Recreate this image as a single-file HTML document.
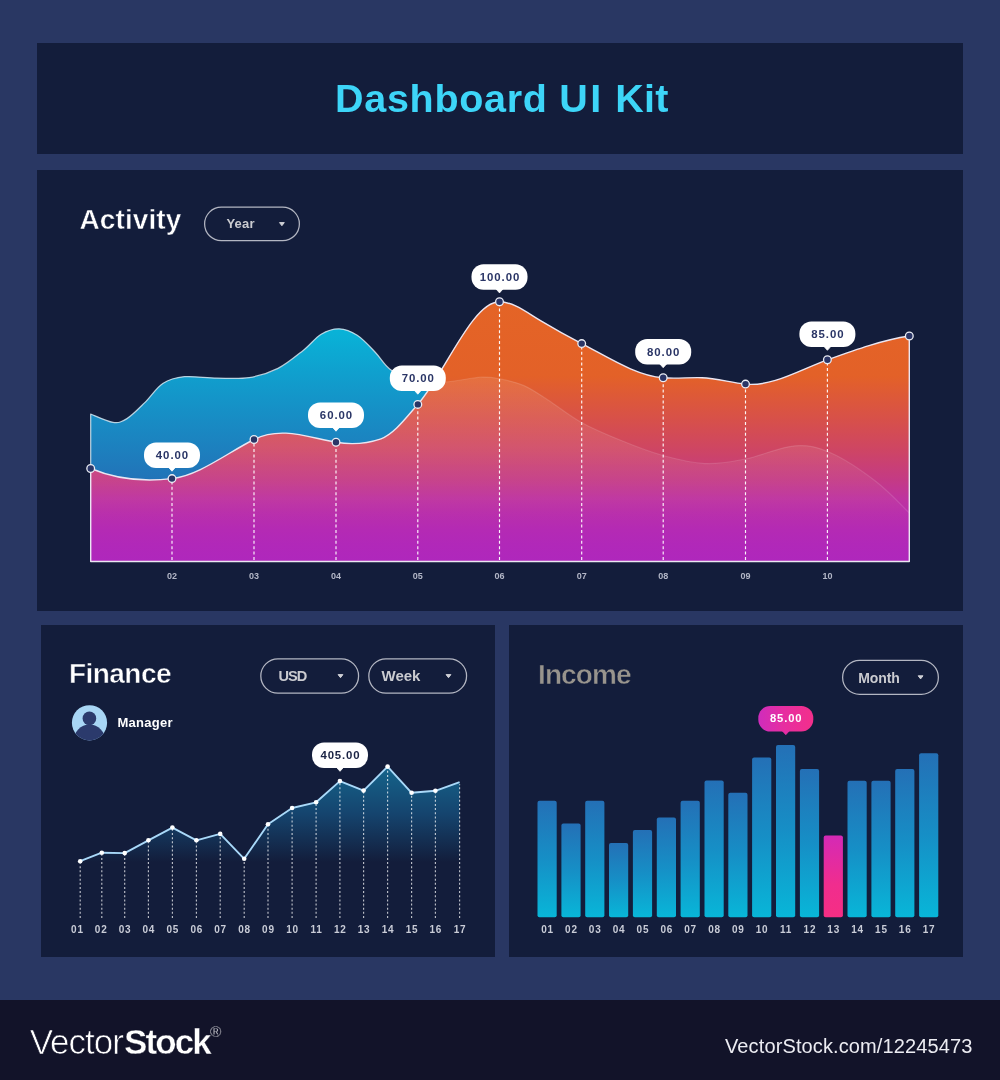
<!DOCTYPE html>
<html><head><meta charset="utf-8"><title>Dashboard UI Kit</title>
<style>
*{margin:0;padding:0;box-sizing:border-box}
html,body{width:1000px;height:1080px;overflow:hidden;background:#293763;font-family:"Liberation Sans",sans-serif}
.abs{position:absolute}
.panel{position:absolute;background:#131d3b}
.h{position:absolute;-webkit-text-stroke:0.5px #131d3b;color:#fff;font-weight:bold;white-space:nowrap;line-height:1}
svg{position:absolute;left:0;top:0}
svg text{font-family:"Liberation Sans",sans-serif;font-weight:bold}
</style></head>
<body>
<div class="panel" style="left:37px;top:43px;width:926px;height:111px"></div>
<div class="panel" style="left:37px;top:170px;width:926px;height:441px"></div>
<div class="panel" style="left:41px;top:625px;width:454px;height:332px"></div>
<div class="panel" style="left:509px;top:625px;width:454px;height:332px"></div>
<div class="abs" style="left:0;top:1000px;width:1000px;height:80px;background:#121329"></div>

<div class="h" id="title" style="left:0;top:78.6px;font-size:39.5px;color:#3dd5f8;-webkit-text-stroke:0"><span class="abs" style="left:335px;letter-spacing:0.7px">Dashboard</span><span class="abs" style="left:559.3px;letter-spacing:2.5px">UI</span><span class="abs" style="left:615.3px;letter-spacing:0.25px">Kit</span></div>
<div class="h" id="activity" style="left:79.5px;top:206.2px;font-size:28px;letter-spacing:0.1px">Activity</div>
<div class="h" id="finance" style="left:69px;top:660.3px;font-size:28px;letter-spacing:-0.55px">Finance</div>
<div class="h" id="income" style="left:538px;top:660.9px;font-size:28px;color:#98948d;letter-spacing:-0.9px">Income</div>
<div class="h" id="manager" style="left:117.5px;top:716px;font-size:13px;letter-spacing:0.25px;-webkit-text-stroke:0">Manager</div>


<svg id="chart" width="1000" height="1080" viewBox="0 0 1000 1080">
<defs>
<linearGradient id="gO" gradientUnits="userSpaceOnUse" x1="0" y1="300" x2="0" y2="562">
<stop offset="0" stop-color="#e46426"/><stop offset="0.29" stop-color="#e36128"/><stop offset="0.458" stop-color="#d7504a"/><stop offset="0.573" stop-color="#ce4564"/><stop offset="0.687" stop-color="#c43a85"/><stop offset="0.76" stop-color="#be33a0"/><stop offset="0.82" stop-color="#b82dac"/><stop offset="0.878" stop-color="#b42ab4"/><stop offset="0.935" stop-color="#b128b9"/><stop offset="1" stop-color="#af27bc"/>
</linearGradient>
<linearGradient id="gB" gradientUnits="userSpaceOnUse" x1="0" y1="328" x2="0" y2="480">
<stop offset="0" stop-color="#08b4d8"/><stop offset="0.35" stop-color="#119ccc"/><stop offset="1" stop-color="#2273b8"/>
</linearGradient>
<linearGradient id="gF" gradientUnits="userSpaceOnUse" x1="0" y1="766" x2="0" y2="862">
<stop offset="0" stop-color="#15658c"/><stop offset="0.5" stop-color="#15446e"/><stop offset="1" stop-color="#131d3b"/>
</linearGradient>
<linearGradient id="gBar" x1="0" y1="0" x2="0" y2="1">
<stop offset="0" stop-color="#2470b6"/><stop offset="0.5" stop-color="#168fc6"/><stop offset="1" stop-color="#08b6d8"/>
</linearGradient>
<linearGradient id="gPink" x1="0" y1="0" x2="0" y2="1">
<stop offset="0" stop-color="#d42ab6"/><stop offset="0.6" stop-color="#f02d8e"/><stop offset="1" stop-color="#f62e84"/>
</linearGradient>
<linearGradient id="gTip" x1="0" y1="0" x2="1" y2="0">
<stop offset="0" stop-color="#cf2cbc"/><stop offset="0.45" stop-color="#e62ea1"/><stop offset="1" stop-color="#f32f8b"/>
</linearGradient>
<linearGradient id="gG" gradientUnits="userSpaceOnUse" x1="0" y1="376" x2="0" y2="562">
<stop offset="0" stop-color="#fff" stop-opacity="0.10"/><stop offset="0.4" stop-color="#fff" stop-opacity="0.08"/><stop offset="0.56" stop-color="#fff" stop-opacity="0.05"/><stop offset="0.72" stop-color="#fff" stop-opacity="0.015"/><stop offset="0.82" stop-color="#fff" stop-opacity="0"/>
</linearGradient>
</defs>
<path d="M90.7 414.0C94.4 415.4 107.0 421.5 113.0 422.3C119.0 423.1 121.7 421.9 127.0 418.6C132.3 415.3 138.8 408.5 144.8 402.6C150.8 396.8 156.2 387.8 162.8 383.5C169.4 379.2 175.4 377.6 184.4 376.7C193.4 375.8 206.0 378.0 216.8 378.1C227.6 378.2 239.0 379.2 249.2 377.6C259.4 376.0 269.0 372.9 278.0 368.4C287.0 363.9 296.0 356.1 303.2 350.4C310.4 344.7 315.2 337.8 321.2 334.2C327.2 330.6 333.2 328.6 339.2 328.8C345.2 329.0 351.2 331.4 357.2 335.3C363.2 339.2 369.6 346.4 375.2 352.2C380.8 358.0 383.9 365.3 391.0 370.0C398.1 374.7 409.0 378.5 418.0 380.5C427.0 382.5 434.5 382.6 445.0 382.0C455.5 381.4 471.8 377.7 481.0 377.2C490.2 376.7 492.8 377.5 500.0 378.9C507.2 380.3 516.0 382.1 524.0 385.6C532.0 389.1 538.5 393.9 548.0 400.0C557.5 406.1 569.0 415.5 581.0 422.2C593.0 428.9 606.3 434.4 620.0 440.0C633.7 445.6 648.8 451.6 663.0 455.5C677.2 459.4 691.2 463.0 705.0 463.6C718.8 464.2 730.5 462.0 745.5 459.0C760.5 456.0 780.8 446.8 795.0 445.8C809.2 444.8 817.5 447.1 831.0 453.0C844.5 458.9 863.0 471.5 876.0 481.5C889.0 491.5 903.8 507.8 909.3 513.0L909.3 561.5L90.7 561.5Z" fill="url(#gB)"/>
<path d="M90.7 468L90.7 414C94.4 415.4 107.0 421.5 113.0 422.3C119.0 423.1 121.7 421.9 127.0 418.6C132.3 415.3 138.8 408.5 144.8 402.6C150.8 396.8 156.2 387.8 162.8 383.5C169.4 379.2 175.4 377.6 184.4 376.7C193.4 375.8 206.0 378.0 216.8 378.1C227.6 378.2 239.0 379.2 249.2 377.6C259.4 376.0 269.0 372.9 278.0 368.4C287.0 363.9 296.0 356.1 303.2 350.4C310.4 344.7 315.2 337.8 321.2 334.2C327.2 330.6 333.2 328.6 339.2 328.8C345.2 329.0 351.2 331.4 357.2 335.3C363.2 339.2 369.6 346.4 375.2 352.2C380.8 358.0 383.9 365.3 391.0 370.0C398.1 374.7 409.0 378.5 418.0 380.5C427.0 382.5 434.5 382.6 445.0 382.0C455.5 381.4 471.8 377.7 481.0 377.2C490.2 376.7 492.8 377.5 500.0 378.9C507.2 380.3 516.0 382.1 524.0 385.6C532.0 389.1 538.5 393.9 548.0 400.0C557.5 406.1 569.0 415.5 581.0 422.2C593.0 428.9 606.3 434.4 620.0 440.0C633.7 445.6 648.8 451.6 663.0 455.5C677.2 459.4 691.2 463.0 705.0 463.6C718.8 464.2 730.5 462.0 745.5 459.0C760.5 456.0 780.8 446.8 795.0 445.8C809.2 444.8 817.5 447.1 831.0 453.0C844.5 458.9 863.0 471.5 876.0 481.5C889.0 491.5 903.8 507.8 909.3 513.0" fill="none" stroke="#d5e6f0" stroke-opacity="0.85" stroke-width="1.25" stroke-linejoin="round"/>
<path d="M90.7 468.5C117.8 479.9 144.9 481.9 172.0 478.6C199.3 475.3 226.7 453.2 254.0 439.5C281.3 425.8 308.7 437.6 336.0 442.2C351.0 444.8 366.0 443.9 381.0 438.8C393.3 434.6 405.5 418.5 417.8 404.4C445.0 373.1 472.3 301.8 499.5 301.8C513.2 301.8 526.8 312.4 540.5 320.6C554.2 328.8 568.0 336.5 581.7 343.6C608.9 357.7 636.0 375.6 663.2 377.8C676.1 378.8 689.1 377.3 702.0 377.7C716.5 378.1 731.0 382.7 745.5 384.1C772.8 386.8 800.1 369.6 827.4 359.8C854.7 350.0 882.0 340.1 909.3 336.0L909.3 561.5L90.7 561.5Z" fill="url(#gO)"/>
<clipPath id="cF"><path d="M90.7 468.5C117.8 479.9 144.9 481.9 172.0 478.6C199.3 475.3 226.7 453.2 254.0 439.5C281.3 425.8 308.7 437.6 336.0 442.2C351.0 444.8 366.0 443.9 381.0 438.8C393.3 434.6 405.5 418.5 417.8 404.4C445.0 373.1 472.3 301.8 499.5 301.8C513.2 301.8 526.8 312.4 540.5 320.6C554.2 328.8 568.0 336.5 581.7 343.6C608.9 357.7 636.0 375.6 663.2 377.8C676.1 378.8 689.1 377.3 702.0 377.7C716.5 378.1 731.0 382.7 745.5 384.1C772.8 386.8 800.1 369.6 827.4 359.8C854.7 350.0 882.0 340.1 909.3 336.0L909.3 561.5L90.7 561.5Z"/></clipPath>
<g clip-path="url(#cF)"><path d="M90.7 414.0C94.4 415.4 107.0 421.5 113.0 422.3C119.0 423.1 121.7 421.9 127.0 418.6C132.3 415.3 138.8 408.5 144.8 402.6C150.8 396.8 156.2 387.8 162.8 383.5C169.4 379.2 175.4 377.6 184.4 376.7C193.4 375.8 206.0 378.0 216.8 378.1C227.6 378.2 239.0 379.2 249.2 377.6C259.4 376.0 269.0 372.9 278.0 368.4C287.0 363.9 296.0 356.1 303.2 350.4C310.4 344.7 315.2 337.8 321.2 334.2C327.2 330.6 333.2 328.6 339.2 328.8C345.2 329.0 351.2 331.4 357.2 335.3C363.2 339.2 369.6 346.4 375.2 352.2C380.8 358.0 383.9 365.3 391.0 370.0C398.1 374.7 409.0 378.5 418.0 380.5C427.0 382.5 434.5 382.6 445.0 382.0C455.5 381.4 471.8 377.7 481.0 377.2C490.2 376.7 492.8 377.5 500.0 378.9C507.2 380.3 516.0 382.1 524.0 385.6C532.0 389.1 538.5 393.9 548.0 400.0C557.5 406.1 569.0 415.5 581.0 422.2C593.0 428.9 606.3 434.4 620.0 440.0C633.7 445.6 648.8 451.6 663.0 455.5C677.2 459.4 691.2 463.0 705.0 463.6C718.8 464.2 730.5 462.0 745.5 459.0C760.5 456.0 780.8 446.8 795.0 445.8C809.2 444.8 817.5 447.1 831.0 453.0C844.5 458.9 863.0 471.5 876.0 481.5C889.0 491.5 903.8 507.8 909.3 513.0L909.3 561.5L90.7 561.5Z" fill="url(#gG)"/><path d="M90.7 414.0C94.4 415.4 107.0 421.5 113.0 422.3C119.0 423.1 121.7 421.9 127.0 418.6C132.3 415.3 138.8 408.5 144.8 402.6C150.8 396.8 156.2 387.8 162.8 383.5C169.4 379.2 175.4 377.6 184.4 376.7C193.4 375.8 206.0 378.0 216.8 378.1C227.6 378.2 239.0 379.2 249.2 377.6C259.4 376.0 269.0 372.9 278.0 368.4C287.0 363.9 296.0 356.1 303.2 350.4C310.4 344.7 315.2 337.8 321.2 334.2C327.2 330.6 333.2 328.6 339.2 328.8C345.2 329.0 351.2 331.4 357.2 335.3C363.2 339.2 369.6 346.4 375.2 352.2C380.8 358.0 383.9 365.3 391.0 370.0C398.1 374.7 409.0 378.5 418.0 380.5C427.0 382.5 434.5 382.6 445.0 382.0C455.5 381.4 471.8 377.7 481.0 377.2C490.2 376.7 492.8 377.5 500.0 378.9C507.2 380.3 516.0 382.1 524.0 385.6C532.0 389.1 538.5 393.9 548.0 400.0C557.5 406.1 569.0 415.5 581.0 422.2C593.0 428.9 606.3 434.4 620.0 440.0C633.7 445.6 648.8 451.6 663.0 455.5C677.2 459.4 691.2 463.0 705.0 463.6C718.8 464.2 730.5 462.0 745.5 459.0C760.5 456.0 780.8 446.8 795.0 445.8C809.2 444.8 817.5 447.1 831.0 453.0C844.5 458.9 863.0 471.5 876.0 481.5C889.0 491.5 903.8 507.8 909.3 513.0" fill="none" stroke="#fff" stroke-opacity="0.12" stroke-width="1.2"/></g>
<line x1="172.0" y1="560.0" x2="172.0" y2="482.6" stroke="#fff" stroke-width="1.15" stroke-dasharray="3 2.4" stroke-opacity="0.95"/>
<line x1="254.0" y1="560.0" x2="254.0" y2="443.5" stroke="#fff" stroke-width="1.15" stroke-dasharray="3 2.4" stroke-opacity="0.95"/>
<line x1="336.0" y1="560.0" x2="336.0" y2="446.2" stroke="#fff" stroke-width="1.15" stroke-dasharray="3 2.4" stroke-opacity="0.95"/>
<line x1="417.8" y1="560.0" x2="417.8" y2="408.4" stroke="#fff" stroke-width="1.15" stroke-dasharray="3 2.4" stroke-opacity="0.95"/>
<line x1="499.5" y1="560.0" x2="499.5" y2="305.8" stroke="#fff" stroke-width="1.15" stroke-dasharray="3 2.4" stroke-opacity="0.95"/>
<line x1="581.7" y1="560.0" x2="581.7" y2="347.6" stroke="#fff" stroke-width="1.15" stroke-dasharray="3 2.4" stroke-opacity="0.95"/>
<line x1="663.2" y1="560.0" x2="663.2" y2="381.8" stroke="#fff" stroke-width="1.15" stroke-dasharray="3 2.4" stroke-opacity="0.95"/>
<line x1="745.5" y1="560.0" x2="745.5" y2="388.1" stroke="#fff" stroke-width="1.15" stroke-dasharray="3 2.4" stroke-opacity="0.95"/>
<line x1="827.4" y1="560.0" x2="827.4" y2="363.8" stroke="#fff" stroke-width="1.15" stroke-dasharray="3 2.4" stroke-opacity="0.95"/>
<path d="M90.7 561.5L90.7 468.5C117.8 479.9 144.9 481.9 172.0 478.6C199.3 475.3 226.7 453.2 254.0 439.5C281.3 425.8 308.7 437.6 336.0 442.2C351.0 444.8 366.0 443.9 381.0 438.8C393.3 434.6 405.5 418.5 417.8 404.4C445.0 373.1 472.3 301.8 499.5 301.8C513.2 301.8 526.8 312.4 540.5 320.6C554.2 328.8 568.0 336.5 581.7 343.6C608.9 357.7 636.0 375.6 663.2 377.8C676.1 378.8 689.1 377.3 702.0 377.7C716.5 378.1 731.0 382.7 745.5 384.1C772.8 386.8 800.1 369.6 827.4 359.8C854.7 350.0 882.0 340.1 909.3 336.0L909.3 561.5Z" fill="none" stroke="#eae6f2" stroke-width="1.4" stroke-linejoin="round"/>
<circle cx="90.7" cy="468.5" r="3.85" fill="#2a3566" stroke="#eceef5" stroke-width="1.3"/>
<circle cx="172.0" cy="478.6" r="3.85" fill="#2a3566" stroke="#eceef5" stroke-width="1.3"/>
<circle cx="254.0" cy="439.5" r="3.85" fill="#2a3566" stroke="#eceef5" stroke-width="1.3"/>
<circle cx="336.0" cy="442.2" r="3.85" fill="#2a3566" stroke="#eceef5" stroke-width="1.3"/>
<circle cx="417.8" cy="404.4" r="3.85" fill="#2a3566" stroke="#eceef5" stroke-width="1.3"/>
<circle cx="499.5" cy="301.8" r="3.85" fill="#2a3566" stroke="#eceef5" stroke-width="1.3"/>
<circle cx="581.7" cy="343.6" r="3.85" fill="#2a3566" stroke="#eceef5" stroke-width="1.3"/>
<circle cx="663.2" cy="377.8" r="3.85" fill="#2a3566" stroke="#eceef5" stroke-width="1.3"/>
<circle cx="745.5" cy="384.1" r="3.85" fill="#2a3566" stroke="#eceef5" stroke-width="1.3"/>
<circle cx="827.4" cy="359.8" r="3.85" fill="#2a3566" stroke="#eceef5" stroke-width="1.3"/>
<circle cx="909.3" cy="336.0" r="3.85" fill="#2a3566" stroke="#eceef5" stroke-width="1.3"/>
<text x="172.0" y="578.6" font-size="9" fill="#b3b7c7" text-anchor="middle">02</text>
<text x="254.0" y="578.6" font-size="9" fill="#b3b7c7" text-anchor="middle">03</text>
<text x="336.0" y="578.6" font-size="9" fill="#b3b7c7" text-anchor="middle">04</text>
<text x="417.8" y="578.6" font-size="9" fill="#b3b7c7" text-anchor="middle">05</text>
<text x="499.5" y="578.6" font-size="9" fill="#b3b7c7" text-anchor="middle">06</text>
<text x="581.7" y="578.6" font-size="9" fill="#b3b7c7" text-anchor="middle">07</text>
<text x="663.2" y="578.6" font-size="9" fill="#b3b7c7" text-anchor="middle">08</text>
<text x="745.5" y="578.6" font-size="9" fill="#b3b7c7" text-anchor="middle">09</text>
<text x="827.4" y="578.6" font-size="9" fill="#b3b7c7" text-anchor="middle">10</text>
<rect x="144.0" y="442.5" width="56.0" height="25.5" rx="12.0" fill="#fff"/>
<path d="M168.6 467.4L175.4 467.4L172.0 471.2Z" fill="#fff" stroke="#fff" stroke-width="0.8" stroke-linejoin="round"/>
<text x="172.47" y="459.03" font-size="11.4" fill="#2a3566" text-anchor="middle" letter-spacing="0.95">40.00</text>
<rect x="308.0" y="402.5" width="56.0" height="25.5" rx="12.0" fill="#fff"/>
<path d="M332.6 427.4L339.4 427.4L336.0 431.2Z" fill="#fff" stroke="#fff" stroke-width="0.8" stroke-linejoin="round"/>
<text x="336.48" y="419.03" font-size="11.4" fill="#2a3566" text-anchor="middle" letter-spacing="0.95">60.00</text>
<rect x="389.8" y="365.5" width="56.0" height="25.5" rx="12.0" fill="#fff"/>
<path d="M414.4 390.4L421.2 390.4L417.8 394.2Z" fill="#fff" stroke="#fff" stroke-width="0.8" stroke-linejoin="round"/>
<text x="418.28" y="382.03" font-size="11.4" fill="#2a3566" text-anchor="middle" letter-spacing="0.95">70.00</text>
<rect x="471.5" y="264.2" width="56.0" height="25.5" rx="12.0" fill="#fff"/>
<path d="M496.1 289.1L502.9 289.1L499.5 292.9Z" fill="#fff" stroke="#fff" stroke-width="0.8" stroke-linejoin="round"/>
<text x="499.98" y="280.73" font-size="11.4" fill="#2a3566" text-anchor="middle" letter-spacing="0.95">100.00</text>
<rect x="635.2" y="339.0" width="56.0" height="25.5" rx="12.0" fill="#fff"/>
<path d="M659.8 363.9L666.6 363.9L663.2 367.7Z" fill="#fff" stroke="#fff" stroke-width="0.8" stroke-linejoin="round"/>
<text x="663.68" y="355.53" font-size="11.4" fill="#2a3566" text-anchor="middle" letter-spacing="0.95">80.00</text>
<rect x="799.4" y="321.6" width="56.0" height="25.5" rx="12.0" fill="#fff"/>
<path d="M824.0 346.5L830.8 346.5L827.4 350.3Z" fill="#fff" stroke="#fff" stroke-width="0.8" stroke-linejoin="round"/>
<text x="827.88" y="338.13" font-size="11.4" fill="#2a3566" text-anchor="middle" letter-spacing="0.95">85.00</text>
<path d="M80.2 861.2 101.8 852.7 124.7 853.1 148.4 840.3 172.4 827.6 196.4 840.3 220.2 833.9 244.2 858.8 268.0 824.3 292.1 808.0 316.1 802.3 339.9 781.1 363.6 790.6 387.6 766.6 411.6 792.8 435.4 790.8 459.6 782.2 L459.6 870 L80.2 870Z" fill="url(#gF)"/>
<line x1="80.2" y1="918" x2="80.2" y2="863.2" stroke="#fff" stroke-width="1.15" stroke-dasharray="2 2.15" stroke-opacity="0.72"/>
<line x1="101.8" y1="918" x2="101.8" y2="854.7" stroke="#fff" stroke-width="1.15" stroke-dasharray="2 2.15" stroke-opacity="0.72"/>
<line x1="124.7" y1="918" x2="124.7" y2="855.1" stroke="#fff" stroke-width="1.15" stroke-dasharray="2 2.15" stroke-opacity="0.72"/>
<line x1="148.4" y1="918" x2="148.4" y2="842.3" stroke="#fff" stroke-width="1.15" stroke-dasharray="2 2.15" stroke-opacity="0.72"/>
<line x1="172.4" y1="918" x2="172.4" y2="829.6" stroke="#fff" stroke-width="1.15" stroke-dasharray="2 2.15" stroke-opacity="0.72"/>
<line x1="196.4" y1="918" x2="196.4" y2="842.3" stroke="#fff" stroke-width="1.15" stroke-dasharray="2 2.15" stroke-opacity="0.72"/>
<line x1="220.2" y1="918" x2="220.2" y2="835.9" stroke="#fff" stroke-width="1.15" stroke-dasharray="2 2.15" stroke-opacity="0.72"/>
<line x1="244.2" y1="918" x2="244.2" y2="860.8" stroke="#fff" stroke-width="1.15" stroke-dasharray="2 2.15" stroke-opacity="0.72"/>
<line x1="268.0" y1="918" x2="268.0" y2="826.3" stroke="#fff" stroke-width="1.15" stroke-dasharray="2 2.15" stroke-opacity="0.72"/>
<line x1="292.1" y1="918" x2="292.1" y2="810.0" stroke="#fff" stroke-width="1.15" stroke-dasharray="2 2.15" stroke-opacity="0.72"/>
<line x1="316.1" y1="918" x2="316.1" y2="804.3" stroke="#fff" stroke-width="1.15" stroke-dasharray="2 2.15" stroke-opacity="0.72"/>
<line x1="339.9" y1="918" x2="339.9" y2="783.1" stroke="#fff" stroke-width="1.15" stroke-dasharray="2 2.15" stroke-opacity="0.72"/>
<line x1="363.6" y1="918" x2="363.6" y2="792.6" stroke="#fff" stroke-width="1.15" stroke-dasharray="2 2.15" stroke-opacity="0.72"/>
<line x1="387.6" y1="918" x2="387.6" y2="768.6" stroke="#fff" stroke-width="1.15" stroke-dasharray="2 2.15" stroke-opacity="0.72"/>
<line x1="411.6" y1="918" x2="411.6" y2="794.8" stroke="#fff" stroke-width="1.15" stroke-dasharray="2 2.15" stroke-opacity="0.72"/>
<line x1="435.4" y1="918" x2="435.4" y2="792.8" stroke="#fff" stroke-width="1.15" stroke-dasharray="2 2.15" stroke-opacity="0.72"/>
<line x1="459.6" y1="918" x2="459.6" y2="784.2" stroke="#fff" stroke-width="1.15" stroke-dasharray="2 2.15" stroke-opacity="0.72"/>
<polyline points="80.2 861.2 101.8 852.7 124.7 853.1 148.4 840.3 172.4 827.6 196.4 840.3 220.2 833.9 244.2 858.8 268.0 824.3 292.1 808.0 316.1 802.3 339.9 781.1 363.6 790.6 387.6 766.6 411.6 792.8 435.4 790.8 459.6 782.2" fill="none" stroke="#a9d9f9" stroke-width="1.9" stroke-linejoin="round"/>
<circle cx="80.2" cy="861.2" r="2.3" fill="#fff"/>
<circle cx="101.8" cy="852.7" r="2.3" fill="#fff"/>
<circle cx="124.7" cy="853.1" r="2.3" fill="#fff"/>
<circle cx="148.4" cy="840.3" r="2.3" fill="#fff"/>
<circle cx="172.4" cy="827.6" r="2.3" fill="#fff"/>
<circle cx="196.4" cy="840.3" r="2.3" fill="#fff"/>
<circle cx="220.2" cy="833.9" r="2.3" fill="#fff"/>
<circle cx="244.2" cy="858.8" r="2.3" fill="#fff"/>
<circle cx="268.0" cy="824.3" r="2.3" fill="#fff"/>
<circle cx="292.1" cy="808.0" r="2.3" fill="#fff"/>
<circle cx="316.1" cy="802.3" r="2.3" fill="#fff"/>
<circle cx="339.9" cy="781.1" r="2.3" fill="#fff"/>
<circle cx="363.6" cy="790.6" r="2.3" fill="#fff"/>
<circle cx="387.6" cy="766.6" r="2.3" fill="#fff"/>
<circle cx="411.6" cy="792.8" r="2.3" fill="#fff"/>
<circle cx="435.4" cy="790.8" r="2.3" fill="#fff"/>
<text x="77.4" y="932.8" font-size="10" fill="#c9ccd7" text-anchor="middle" letter-spacing="0.8">01</text>
<text x="101.2" y="932.8" font-size="10" fill="#c9ccd7" text-anchor="middle" letter-spacing="0.8">02</text>
<text x="125.0" y="932.8" font-size="10" fill="#c9ccd7" text-anchor="middle" letter-spacing="0.8">03</text>
<text x="148.8" y="932.8" font-size="10" fill="#c9ccd7" text-anchor="middle" letter-spacing="0.8">04</text>
<text x="172.8" y="932.8" font-size="10" fill="#c9ccd7" text-anchor="middle" letter-spacing="0.8">05</text>
<text x="196.8" y="932.8" font-size="10" fill="#c9ccd7" text-anchor="middle" letter-spacing="0.8">06</text>
<text x="220.6" y="932.8" font-size="10" fill="#c9ccd7" text-anchor="middle" letter-spacing="0.8">07</text>
<text x="244.6" y="932.8" font-size="10" fill="#c9ccd7" text-anchor="middle" letter-spacing="0.8">08</text>
<text x="268.4" y="932.8" font-size="10" fill="#c9ccd7" text-anchor="middle" letter-spacing="0.8">09</text>
<text x="292.5" y="932.8" font-size="10" fill="#c9ccd7" text-anchor="middle" letter-spacing="0.8">10</text>
<text x="316.5" y="932.8" font-size="10" fill="#c9ccd7" text-anchor="middle" letter-spacing="0.8">11</text>
<text x="340.3" y="932.8" font-size="10" fill="#c9ccd7" text-anchor="middle" letter-spacing="0.8">12</text>
<text x="364.0" y="932.8" font-size="10" fill="#c9ccd7" text-anchor="middle" letter-spacing="0.8">13</text>
<text x="388.0" y="932.8" font-size="10" fill="#c9ccd7" text-anchor="middle" letter-spacing="0.8">14</text>
<text x="412.0" y="932.8" font-size="10" fill="#c9ccd7" text-anchor="middle" letter-spacing="0.8">15</text>
<text x="435.8" y="932.8" font-size="10" fill="#c9ccd7" text-anchor="middle" letter-spacing="0.8">16</text>
<text x="460.0" y="932.8" font-size="10" fill="#c9ccd7" text-anchor="middle" letter-spacing="0.8">17</text>
<rect x="312.0" y="742.6" width="56.0" height="25.5" rx="12.0" fill="#fff"/>
<path d="M336.6 767.5L343.4 767.5L340.0 771.3Z" fill="#fff" stroke="#fff" stroke-width="0.8" stroke-linejoin="round"/>
<text x="340.43" y="759.13" font-size="11.4" fill="#1a2344" text-anchor="middle" letter-spacing="0.85">405.00</text>
<clipPath id="cA"><circle cx="89.5" cy="722.8" r="17.6"/></clipPath>
<circle cx="89.5" cy="722.8" r="17.6" fill="#a8d6f5"/>
<g clip-path="url(#cA)" fill="#2b3a6c"><circle cx="89.4" cy="718.4" r="6.8"/><ellipse cx="89.5" cy="741.2" rx="16" ry="16.6"/></g>
<rect x="537.5" y="800.8" width="19.2" height="116.5" rx="2" fill="url(#gBar)"/>
<text x="547.5" y="933.2" font-size="10" fill="#c9ccd7" text-anchor="middle" letter-spacing="0.8">01</text>
<rect x="561.4" y="823.5" width="19.2" height="93.8" rx="2" fill="url(#gBar)"/>
<text x="571.4" y="933.2" font-size="10" fill="#c9ccd7" text-anchor="middle" letter-spacing="0.8">02</text>
<rect x="585.2" y="800.8" width="19.2" height="116.5" rx="2" fill="url(#gBar)"/>
<text x="595.2" y="933.2" font-size="10" fill="#c9ccd7" text-anchor="middle" letter-spacing="0.8">03</text>
<rect x="609.0" y="842.9" width="19.2" height="74.4" rx="2" fill="url(#gBar)"/>
<text x="619.0" y="933.2" font-size="10" fill="#c9ccd7" text-anchor="middle" letter-spacing="0.8">04</text>
<rect x="632.9" y="830.1" width="19.2" height="87.2" rx="2" fill="url(#gBar)"/>
<text x="642.9" y="933.2" font-size="10" fill="#c9ccd7" text-anchor="middle" letter-spacing="0.8">05</text>
<rect x="656.8" y="817.6" width="19.2" height="99.7" rx="2" fill="url(#gBar)"/>
<text x="666.8" y="933.2" font-size="10" fill="#c9ccd7" text-anchor="middle" letter-spacing="0.8">06</text>
<rect x="680.6" y="800.8" width="19.2" height="116.5" rx="2" fill="url(#gBar)"/>
<text x="690.6" y="933.2" font-size="10" fill="#c9ccd7" text-anchor="middle" letter-spacing="0.8">07</text>
<rect x="704.5" y="780.6" width="19.2" height="136.7" rx="2" fill="url(#gBar)"/>
<text x="714.5" y="933.2" font-size="10" fill="#c9ccd7" text-anchor="middle" letter-spacing="0.8">08</text>
<rect x="728.3" y="792.8" width="19.2" height="124.5" rx="2" fill="url(#gBar)"/>
<text x="738.3" y="933.2" font-size="10" fill="#c9ccd7" text-anchor="middle" letter-spacing="0.8">09</text>
<rect x="752.1" y="757.4" width="19.2" height="159.9" rx="2" fill="url(#gBar)"/>
<text x="762.1" y="933.2" font-size="10" fill="#c9ccd7" text-anchor="middle" letter-spacing="0.8">10</text>
<rect x="776.0" y="745.0" width="19.2" height="172.3" rx="2" fill="url(#gBar)"/>
<text x="786.0" y="933.2" font-size="10" fill="#c9ccd7" text-anchor="middle" letter-spacing="0.8">11</text>
<rect x="799.9" y="769.0" width="19.2" height="148.3" rx="2" fill="url(#gBar)"/>
<text x="809.9" y="933.2" font-size="10" fill="#c9ccd7" text-anchor="middle" letter-spacing="0.8">12</text>
<rect x="823.7" y="835.4" width="19.2" height="81.9" rx="2" fill="url(#gPink)"/>
<text x="833.7" y="933.2" font-size="10" fill="#c9ccd7" text-anchor="middle" letter-spacing="0.8">13</text>
<rect x="847.5" y="780.7" width="19.2" height="136.6" rx="2" fill="url(#gBar)"/>
<text x="857.5" y="933.2" font-size="10" fill="#c9ccd7" text-anchor="middle" letter-spacing="0.8">14</text>
<rect x="871.4" y="780.7" width="19.2" height="136.6" rx="2" fill="url(#gBar)"/>
<text x="881.4" y="933.2" font-size="10" fill="#c9ccd7" text-anchor="middle" letter-spacing="0.8">15</text>
<rect x="895.2" y="769.0" width="19.2" height="148.3" rx="2" fill="url(#gBar)"/>
<text x="905.2" y="933.2" font-size="10" fill="#c9ccd7" text-anchor="middle" letter-spacing="0.8">16</text>
<rect x="919.1" y="753.3" width="19.2" height="164.0" rx="2" fill="url(#gBar)"/>
<text x="929.1" y="933.2" font-size="10" fill="#c9ccd7" text-anchor="middle" letter-spacing="0.8">17</text>
<rect x="758.3" y="706.0" width="55.0" height="25.5" rx="12.0" fill="url(#gTip)"/>
<path d="M782.4 730.9L789.2 730.9L785.8 734.7Z" fill="#e32ea5" stroke="#e32ea5" stroke-width="0.8" stroke-linejoin="round"/>
<text x="786.25" y="722.46" font-size="11.2" fill="#fff" text-anchor="middle" letter-spacing="0.9">85.00</text>
<rect x="204.62" y="207.22" width="94.75" height="33.35" rx="16.67" fill="none" stroke="#b3b6c2" stroke-width="1.25"/>
<text x="226.40" y="228.40" font-size="13" fill="#cacbd0" letter-spacing="0.25">Year</text>
<path d="M279.50 222.60L284.30 222.60L281.90 225.70Z" fill="#cfd0d6" stroke="#cfd0d6" stroke-width="1" stroke-linejoin="round"/>
<rect x="260.82" y="658.83" width="97.75" height="34.35" rx="17.17" fill="none" stroke="#b3b6c2" stroke-width="1.25"/>
<text x="278.40" y="681.40" font-size="14.6" fill="#cacbd0" letter-spacing="-0.9">USD</text>
<path d="M338.10 674.60L342.90 674.60L340.50 677.70Z" fill="#cfd0d6" stroke="#cfd0d6" stroke-width="1" stroke-linejoin="round"/>
<rect x="368.82" y="658.83" width="97.75" height="34.35" rx="17.17" fill="none" stroke="#b3b6c2" stroke-width="1.25"/>
<text x="381.50" y="681.40" font-size="15" fill="#cacbd0" letter-spacing="0">Week</text>
<path d="M446.10 674.60L450.90 674.60L448.50 677.70Z" fill="#cfd0d6" stroke="#cfd0d6" stroke-width="1" stroke-linejoin="round"/>
<rect x="842.62" y="660.42" width="95.75" height="33.95" rx="16.98" fill="none" stroke="#b3b6c2" stroke-width="1.25"/>
<text x="858.20" y="682.50" font-size="14" fill="#cacbd0" letter-spacing="-0.1">Month</text>
<path d="M918.20 675.80L923.00 675.80L920.60 678.90Z" fill="#cfd0d6" stroke="#cfd0d6" stroke-width="1" stroke-linejoin="round"/>
</svg>

<div class="abs" id="vs" style="left:29.7px;top:1023.7px;font-size:35px;color:#fff;line-height:1;white-space:nowrap;letter-spacing:-1px"><span style="font-weight:normal;-webkit-text-stroke:0.7px #121329">Vector</span><span style="font-weight:bold;letter-spacing:-1.9px;margin-left:1.2px;-webkit-text-stroke:0.4px #121329">Stock</span><span style="font-size:15.5px;position:relative;top:-17px;left:0px;letter-spacing:0;-webkit-text-stroke:0.3px #121329">®</span></div>
<div class="abs" id="vsurl" style="left:725px;top:1036.3px;font-size:20px;color:#ececf2;line-height:1;white-space:nowrap;letter-spacing:0.12px">VectorStock.com/12245473</div>
</body></html>
